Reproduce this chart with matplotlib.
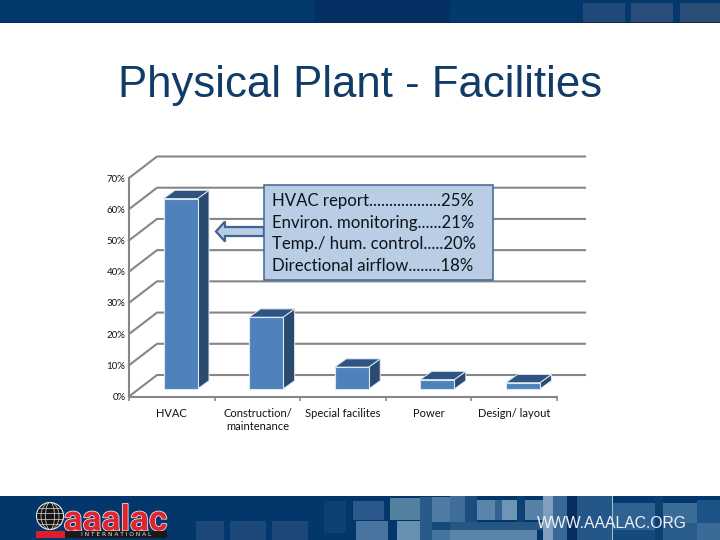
import matplotlib
matplotlib.use("Agg")
import matplotlib.pyplot as plt
from matplotlib.patches import Rectangle, Polygon, Circle, Ellipse
import matplotlib.patheffects as pe

categories = ["HVAC", "Construction/\nmaintenance", "Special facilites", "Power", "Design/ layout"]
values = [61, 23, 7, 3, 2]
y_ticks = [0, 10, 20, 30, 40, 50, 60, 70]
title = "Physical Plant - Facilities"
callout_lines = ["HVAC report..................25%",
                 "Environ. monitoring......21%",
                 "Temp./ hum. control.....20%",
                 "Directional airflow........18%"]

W, H = 720, 540
fig = plt.figure(figsize=(7.2, 5.4), dpi=100, facecolor="white")

# ---------- slide decoration in pixel coordinates ----------
bg = fig.add_axes([0, 0, 1, 1], zorder=0)
bg.set_xlim(0, W); bg.set_ylim(H, 0); bg.axis("off")

def rect(x0, y0, x1, y1, c, a=1.0, z=1):
    bg.add_patch(Rectangle((x0, y0), x1 - x0, y1 - y0, fc=c, ec="none", alpha=a, zorder=z))

# header band
rect(0, 0, 720, 22, "#03386c")
rect(315, 0, 450, 22, "#032f62")
rect(450, 3, 575, 22, "#033a6e")
rect(583, 3, 625, 22, "#20497a")
rect(631, 3, 673, 22, "#2a4e7c")
rect(680, 3, 720, 22, "#2a4e78")
rect(0, 22, 720, 23, "#0b2a48")

# footer band
rect(0, 496, 720, 540, "#03376b")
for x0, y0, x1, y1, c in [
    (196, 521, 224, 540, "#1b4878"), (230, 521, 266, 540, "#1b4878"), (272, 521, 308, 540, "#1b4878"),
    (324, 501, 346, 533, "#0d4173"), (353, 501, 384, 520, "#2b598a"), (356, 521, 388, 540, "#48749f"),
    (390, 498, 420, 520, "#54809f"), (397, 521, 425, 540, "#6890b2"), (420, 497, 432, 540, "#2a5a88"),
    (432, 497, 450, 522, "#4d7ba4"), (432, 522, 450, 530, "#14497c"), (432, 530, 450, 540, "#46749e"),
    (450, 496, 465, 522, "#3f6c98"), (465, 496, 477, 522, "#1c4c7d"), (477, 500, 495, 520, "#5b86ac"),
    (495, 500, 502, 520, "#33638f"), (502, 500, 517, 520, "#6f95b6"), (517, 496, 525, 530, "#0e3f72"),
    (525, 500, 543, 520, "#5781a8"), (450, 522, 543, 530, "#265684"), (450, 530, 537, 540, "#5a84a8"),
    (543, 496, 553, 540, "#7f9fbc"), (553, 496, 567, 540, "#3a6896"), (567, 496, 577, 540, "#082e60"),
    (577, 496, 612, 540, "#245788"), (612, 496, 613, 540, "#a8c0d4"), (613, 496, 655, 503, "#053a70"),
    (613, 503, 655, 530, "#2f6292"), (613, 530, 655, 540, "#14497c"), (655, 496, 663, 540, "#0d4070"),
    (663, 503, 697, 523, "#3c6c98"), (663, 523, 697, 540, "#2a5c8b"), (697, 500, 720, 523, "#1c5488"),
    (697, 523, 720, 540, "#3a6a96"),
]:
    rect(x0, y0, x1, y1, c)
bg.text(612, 523, "WWW.AAALAC.ORG", color="#eef3f8", fontsize=11.3, ha="center", va="center",
        family="Liberation Sans", zorder=5, fontstretch="condensed")

# logo
rect(36, 531, 65, 538, "#d8202c", z=3)
rect(65, 531, 167, 538, "#1a1a1a", z=3)
bg.text(116, 534.7, "I N T E R N A T I O N A L", color="#e6e6e6", fontsize=4.2, ha="center", va="center",
        family="DejaVu Sans", zorder=4)
bg.add_patch(Circle((50, 516), 13.5, fc="#151515", ec="#e6e6e6", lw=0.8, zorder=3))
for w in (9, 18):
    bg.add_patch(Ellipse((50, 516), w, 27, fc="none", ec="#dddddd", lw=0.5, zorder=4))
for dy in (-8, -3, 3, 8):
    half = (13.5 ** 2 - dy ** 2) ** 0.5
    bg.plot([50 - half, 50 + half], [516 + dy, 516 + dy], color="#dddddd", lw=0.5, zorder=4)
bg.text(115.5, 530.5, "aaalac", color="#e02530", fontsize=25.5, fontweight="bold", ha="center", va="baseline",
        family="Roboto", zorder=2,
        path_effects=[pe.withStroke(linewidth=1.1, foreground="#f2f2f2")])

# title
bg.text(360, 85, title, color="#123c68", fontsize=31.5, ha="center", va="center",
        family="Liberation Sans", zorder=2)

# ---------- chart ----------
AX_L, AX_R, AX_B, AX_T = 129, 557, 396.5, 178
ax = fig.add_axes([AX_L / W, 1 - AX_B / H, (AX_R - AX_L) / W, (AX_B - AX_T) / H], zorder=1)
ax.patch.set_alpha(0)
ax.set_xlim(-0.5, len(categories) - 0.5)
ax.set_ylim(0, 70)
px_x = (len(categories)) / (AX_R - AX_L)   # data units per pixel
px_y = 70 / (AX_B - AX_T)

GRID = "#868686"
wall_dx, wall_dy = 28 * px_x, 21.5 * px_y
x_left, x_right = -0.5, len(categories) - 0.5

for t in y_ticks:
    ax.plot([x_left, x_left + wall_dx, x_right + wall_dx], [t, t + wall_dy, t + wall_dy],
            color=GRID, lw=1.5, clip_on=False, zorder=1, solid_joinstyle="miter")

for s in ("top", "right"):
    ax.spines[s].set_visible(False)
for s in ("left", "bottom"):
    ax.spines[s].set_color(GRID)
    ax.spines[s].set_linewidth(1.5)

ax.set_yticks(y_ticks)
ax.set_yticklabels([f"{t}%" for t in y_ticks])
ax.set_xticks(range(len(categories)))
ax.set_xticklabels(categories)
ax.set_xticks([i - 0.5 for i in range(len(categories) + 1)], minor=True)
ax.tick_params(axis="y", length=0, pad=2.6, labelsize=7, labelcolor="#111111")
ax.tick_params(axis="x", which="major", length=0, pad=8, labelsize=8, labelcolor="#111111")
ax.tick_params(axis="x", which="minor", length=2.8, width=1.2, color=GRID)
for lab in ax.get_xticklabels() + ax.get_yticklabels():
    lab.set_family("Lato")
    lab.set_linespacing(1.3)

# 3-D bars
bar_base = 7.5 * px_y
bar_shift = 8.7 * px_x
bar_w = 34 * px_x
dx3, dy3 = 11.5 * px_x, 8.3 * px_y
FRONT, SIDE, TOP, EDGE = "#4f81bd", "#2a4a70", "#2f5482", "#dce8f2"
xpos = [i + bar_shift for i in range(len(categories))]
ax.bar(xpos, values, width=bar_w, bottom=bar_base, color=FRONT, edgecolor=EDGE, linewidth=0.8,
       zorder=3, clip_on=False)
for x, v in zip(xpos, values):
    l, r, b, t = x - bar_w / 2, x + bar_w / 2, bar_base, bar_base + v
    ax.add_patch(Polygon([(r, b), (r + dx3, b + dy3), (r + dx3, t + dy3), (r, t)], fc=SIDE, ec=EDGE,
                         lw=0.7, zorder=2.9, clip_on=False))
    ax.add_patch(Polygon([(l, t), (l + dx3, t + dy3), (r + dx3, t + dy3), (r, t)], fc=TOP, ec=EDGE,
                         lw=0.7, zorder=2.9, clip_on=False))

# ---------- callout on top ----------
fg = fig.add_axes([0, 0, 1, 1], zorder=3)
fg.set_xlim(0, W); fg.set_ylim(H, 0); fg.axis("off")
fg.add_patch(Polygon([(264, 227), (225, 227), (225, 221.5), (216, 231.5), (225, 241.5), (225, 236), (264, 236)],
                     closed=True, fc="#b9cde5", ec="#3f6593", lw=1.6, joinstyle="miter"))
fg.add_patch(Rectangle((264, 185), 229, 95, fc="#b9cde5", ec="#3f6593", lw=1.1))
for yy, line in zip((200.6, 222.6, 244, 265.7), callout_lines):
    fg.text(272, yy, line, fontsize=12.05, color="#0c141c", family="Lato", ha="left", va="center")

fig.savefig("out.png", dpi=100)
